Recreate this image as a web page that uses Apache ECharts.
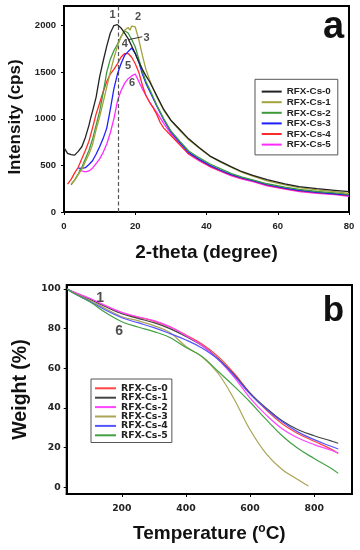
<!DOCTYPE html>
<html>
<head>
<meta charset="utf-8">
<script src="https://cdn.jsdelivr.net/npm/echarts@6/dist/echarts.min.js"></script>
<style>html,body{margin:0;padding:0;background:#fff;}#c{width:360px;height:550px;}</style>
</head>
<body>
<div id="c"></div>
<script>
// ---------- Panel a (XRD) ----------
const seriesNamesA = ['RFX-Cs-0','RFX-Cs-1','RFX-Cs-2','RFX-Cs-3','RFX-Cs-4','RFX-Cs-5'];
const xrdCs0 = [[0,690],[1,630],[2,615],[3,610],[4,650],[5,700],[6,800],[7,930],[7.5,1010],[8,1080],[9,1230],[10,1450],[11,1620],[12,1780],[13,1920],[14,2000],[14.5,1985],[15,2010],[16,1975],[17,1920],[18,1860],[19,1780],[20,1700],[21,1610],[22,1530],[23,1460],[24,1400],[26,1250],[28,1100],[30,985],[32.5,885],[35,785],[38,690],[41,600],[44,540],[47,485],[50,432],[53,392],[57,348],[62,302],[66,272],[71,250],[76,232],[80,218]];
const xrdCs1 = [[2,300],[3,340],[4,400],[5,460],[6,540],[7,620],[8,720],[9,880],[10,1020],[11,1180],[12,1340],[13,1500],[14,1650],[15,1780],[16,1880],[17,1950],[18,1980],[18.5,1950],[19,1995],[20,1985],[21,1850],[22,1680],[23,1530],[24,1420],[26,1240],[28,1090],[30,980],[32.5,875],[35,775],[38,685],[41,595],[44,535],[47,478],[50,425],[53,385],[57,335],[62,290],[66,262],[71,238],[76,218],[80,200]];
const xrdCs2 = [[2,290],[3,345],[4,410],[5,480],[6,570],[7,660],[8,780],[9,930],[10,1080],[11,1280],[12,1500],[13,1640],[14,1730],[15,1800],[16,1880],[17,1945],[18,1920],[19,1850],[20,1770],[21,1640],[22,1510],[23,1400],[24,1320],[26,1150],[28,1000],[30,870],[32.5,760],[35,655],[38,580],[41,515],[44,462],[47,412],[50,375],[53,345],[57,303],[62,268],[66,242],[71,220],[76,205],[80,190]];
const xrdCs3 = [[4,470],[5,468],[6,475],[7,510],[8,550],[9,620],[10,700],[11,790],[12,900],[13,1100],[14,1320],[15,1480],[16,1590],[17,1680],[18,1720],[19,1760],[20,1700],[21,1610],[22,1480],[23,1380],[24,1300],[26,1140],[28,990],[30,860],[32.5,745],[35,640],[38,565],[41,500],[44,448],[47,400],[50,365],[53,337],[57,293],[62,256],[66,232],[71,210],[76,196],[80,180]];
const xrdCs4 = [[1,300],[2,350],[3,420],[4,480],[5,570],[6,660],[7,760],[8,900],[9,1050],[10,1170],[11,1290],[12,1400],[13,1480],[14,1530],[15,1590],[16,1660],[17,1700],[18,1700],[19,1660],[20,1590],[21,1500],[22,1360],[23,1250],[24,1180],[25,1120],[26,1050],[27,960],[28,900],[30,820],[32.5,720],[35,625],[38,555],[41,490],[44,440],[47,395],[50,360],[53,333],[57,288],[62,252],[66,228],[71,207],[76,192],[80,175]];
const xrdCs5 = [[4.2,450],[5,440],[6,430],[7,440],[8,470],[9,520],[10,570],[11,640],[12,730],[13,850],[14,1000],[15,1190],[16,1300],[17,1380],[18,1430],[19,1460],[20,1480],[21,1400],[22,1320],[23,1250],[24,1180],[26,1070],[28,950],[30,840],[32.5,725],[35,620],[38,548],[41,485],[44,435],[47,388],[50,352],[53,325],[57,280],[62,245],[66,220],[71,200],[76,186],[80,168]];
const xTicksA = [0,20,40,60,80];
const yTicksA = [0,500,1000,1500,2000];
const peakLineA = 15.3;
const peakLabelsA = ['1','2','3','4','5','6'];
const peakLabelPosA = [[13.6,2110],[20.8,2090],[23.2,1870],[17.1,1806],[18.0,1570],[19.1,1387]];
const pointerA = [[18.2,1850],[22.0,1880]];

// ---------- Panel b (TGA) ----------
const seriesNamesB = ['RFX-Cs-0','RFX-Cs-1','RFX-Cs-2','RFX-Cs-3','RFX-Cs-4','RFX-Cs-5'];
const tgaCs0 = [[30,100],[50,98.5],[100,95.2],[150,91.5],[200,88],[250,85.8],[300,83.8],[350,80.8],[400,76.8],[450,72.3],[500,66.0],[550,57.5],[600,47.5],[650,39.0],[700,32.0],[750,27.0],[800,23.2],[850,19.5],[875,17.0]];
const tgaCs1 = [[30,100],[50,98.2],[100,94.8],[150,91.0],[200,87.5],[250,85.2],[300,83.0],[350,80.0],[400,76.0],[450,71.5],[500,65.0],[550,56.8],[600,47.5],[650,40.0],[700,33.5],[750,29.0],[800,26.0],[850,23.5],[875,22.2]];
const tgaCs2 = [[30,100],[50,98.4],[100,95.3],[150,91.5],[200,88.2],[250,86.0],[300,84.0],[350,81.0],[400,76.5],[450,71.5],[500,64.5],[550,55.5],[600,45.0],[650,36.5],[700,29.5],[750,24.8],[800,21.5],[850,18.8],[875,17.3]];
const tgaCs3 = [[30,100],[50,98],[100,94.3],[150,90.0],[200,86.0],[250,84.0],[300,81.5],[350,78.0],[400,71.0],[450,65.8],[500,57.5],[550,44.5],[600,29.0],[650,17.0],[700,9.0],[750,3.8],[782,0.6]];
const tgaCs4 = [[30,100],[50,97.8],[100,93.8],[150,89.3],[200,85.5],[250,83.0],[300,80.5],[350,77.5],[400,74.3],[450,70.2],[500,64.5],[550,56.3],[600,47.0],[650,39.5],[700,33.0],[750,27.8],[800,24.0],[850,20.8],[875,19.3]];
const tgaCs5 = [[30,100],[50,97.8],[100,93.5],[150,88.0],[200,83.5],[250,80.8],[300,78.5],[350,75.5],[400,70.5],[450,66.0],[500,58.5],[550,51.0],[600,43.0],[650,34.2],[700,26.0],[750,19.5],[800,14.5],[850,9.8],[875,7.0]];
const xTicksB = [200,400,600,800];
const yTicksB = [0,20,40,60,80,100];
const curveLabelsB = ['1','6'];
const curveLabelPosB = [[132,95.5],[191.6,78.7]];

const colorsA = ['#222222','#a3a23a','#3c9a3c','#1f1fff','#ff2a2a','#ff2aff'];
const colorsB = ['#ff4444','#444444','#ff44ff','#aaa455','#5555ff','#44a044'];
const dataA = [xrdCs0,xrdCs1,xrdCs2,xrdCs3,xrdCs4,xrdCs5];
const dataB = [tgaCs0,tgaCs1,tgaCs2,tgaCs3,tgaCs4,tgaCs5];
const PB = 'b:';

const chart = echarts.init(document.getElementById('c'), null, {renderer:'canvas'});
const plain = v => String(v);
const tickLblA = {fontFamily:'Liberation Sans, Arial', fontWeight:'bold', fontSize:9.5, color:'#222', formatter:plain};
const tickLblB = {fontFamily:'DejaVu Sans', fontWeight:'bold', fontSize:9.3, color:'#222', formatter:plain};
const axLine = {show:true, onZero:false, lineStyle:{color:'#000', width:2}};

const series = [];
dataA.forEach((d,i)=>{
  const s = {type:'line', name:seriesNamesA[i], xAxisIndex:0, yAxisIndex:0, data:d, showSymbol:false, symbol:'none',
    lineStyle:{color:colorsA[i], width:1.3}, itemStyle:{color:colorsA[i]}, z:3+(5-i), animation:false};
  if(i===0){
    s.markLine = {silent:true, symbol:['none','none'], label:{show:false},
      lineStyle:{type:[4,2.5], color:'#555', width:1.2}, data:[{xAxis:peakLineA}], animation:false};
  }
  series.push(s);
});
series.push({type:'line', xAxisIndex:0, yAxisIndex:0, data:pointerA, showSymbol:false, symbol:'none',
  lineStyle:{color:'#333', width:1}, z:10, animation:false});
series.push({type:'scatter', xAxisIndex:0, yAxisIndex:0, symbolSize:1, itemStyle:{color:'rgba(0,0,0,0)'},
  data:peakLabelPosA.map((p,i)=>({value:p, name:peakLabelsA[i]})),
  label:{show:true, position:'inside', formatter:p=>p.name, fontFamily:'Liberation Sans, Arial', fontWeight:'bold', fontSize:11, color:'#222'}, z:11, animation:false});
dataB.forEach((d,i)=>{
  series.push({type:'line', name:PB+seriesNamesB[i], xAxisIndex:1, yAxisIndex:1, data:d, showSymbol:false, symbol:'none', smooth:0.4,
    lineStyle:{color:colorsB[i], width:1.2}, itemStyle:{color:colorsB[i]}, z:3, animation:false});
});
series.push({type:'scatter', xAxisIndex:1, yAxisIndex:1, symbolSize:1, itemStyle:{color:'rgba(0,0,0,0)'},
  data:curveLabelPosB.map((p,i)=>({value:p, name:curveLabelsB[i]})),
  label:{show:true, position:'inside', formatter:p=>p.name, fontFamily:'Liberation Sans, Arial', fontWeight:'bold', fontSize:14, color:'#222'}, z:11, animation:false});

const option = {
  animation:false,
  backgroundColor:'#fff',
  grid:[
    {left:64, top:6, width:285, height:206, show:true, borderColor:'#000', borderWidth:2, backgroundColor:'transparent', containLabel:false, outerBoundsMode:'none'},
    {left:66.7, top:285, width:285.3, height:209, show:true, borderColor:'#000', borderWidth:2, backgroundColor:'transparent', containLabel:false, outerBoundsMode:'none'}
  ],
  xAxis:[
    {type:'value', gridIndex:0, min:0, max:80, splitLine:{show:false}, axisLine:axLine,
      axisTick:{show:true, length:3, lineStyle:{color:'#000', width:1}, customValues:xTicksA},
      axisLabel:Object.assign({margin:9, customValues:xTicksA}, tickLblA),
      name:'2-theta (degree)', nameLocation:'middle', nameGap:31,
      nameTextStyle:{fontFamily:'Liberation Sans, Arial', fontWeight:'bold', fontSize:19, color:'#111'}},
    {type:'value', gridIndex:1, min:28, max:918, splitLine:{show:false}, axisLine:axLine,
      axisTick:{show:true, length:3, lineStyle:{color:'#000', width:1}, customValues:xTicksB},
      axisLabel:Object.assign({margin:10, customValues:xTicksB}, tickLblB),
      name:'Temperature ({sup|o}C)', nameLocation:'middle', nameGap:29,
      nameTextStyle:{fontFamily:'Liberation Sans, Arial', fontWeight:'bold', fontSize:19, color:'#111', lineHeight:22,
        rich:{sup:{fontFamily:'Liberation Sans, Arial', fontWeight:'bold', fontSize:12, color:'#111', verticalAlign:'top', lineHeight:22}}}}
  ],
  yAxis:[
    {type:'value', gridIndex:0, min:0, max:2210, splitLine:{show:false}, axisLine:axLine,
      axisTick:{show:true, length:3, lineStyle:{color:'#000', width:1}, customValues:yTicksA},
      axisLabel:Object.assign({margin:8, customValues:yTicksA}, tickLblA),
      name:'Intensity (cps)', nameLocation:'middle', nameGap:40,
      nameTextStyle:{fontFamily:'Liberation Sans, Arial', fontWeight:'bold', fontSize:17, color:'#111', padding:[0,16,0,0]}},
    {type:'value', gridIndex:1, min:-3.4, max:102, splitLine:{show:false}, axisLine:axLine,
      axisTick:{show:true, length:3, lineStyle:{color:'#000', width:1}, customValues:yTicksB},
      axisLabel:Object.assign({margin:6, customValues:yTicksB}, tickLblB),
      name:'Weight (%)', nameLocation:'middle', nameGap:30,
      nameTextStyle:{fontFamily:'Liberation Sans, Arial', fontWeight:'bold', fontSize:19.5, color:'#111'}}
  ],
  legend:[
    {data:seriesNamesA, orient:'vertical', left:255, top:79.3, padding:[7,7,5,6.7], itemGap:0,
      icon:'rect', itemWidth:20, itemHeight:2, selectedMode:false,
      backgroundColor:'#fff', borderColor:'#555', borderWidth:1,
      textStyle:{fontFamily:'Liberation Sans, Arial', fontWeight:'bold', fontSize:9.8, color:'#222', lineHeight:10.6}},
    {data:seriesNamesB.map(n=>PB+n), orient:'vertical', left:91, top:379, padding:[4.6,4,2.5,4], itemGap:0,
      icon:'rect', itemWidth:21, itemHeight:2, selectedMode:false,
      formatter:n=>n.slice(PB.length),
      backgroundColor:'#fff', borderColor:'#555', borderWidth:1,
      textStyle:{fontFamily:'DejaVu Sans', fontWeight:'bold', fontSize:9.4, color:'#222', lineHeight:9.4}}
  ],
  graphic:[
    {type:'text', z:100, style:{text:'a', x:333.5, y:28, textAlign:'center', textVerticalAlign:'middle', font:'bold 38px "Liberation Sans", Arial', fill:'#111'}},
    {type:'text', z:100, style:{text:'b', x:333.5, y:311, textAlign:'center', textVerticalAlign:'middle', font:'bold 35px "Liberation Sans", Arial', fill:'#111'}}
  ],
  series:series
};
chart.setOption(option);
</script>
</body>
</html>
